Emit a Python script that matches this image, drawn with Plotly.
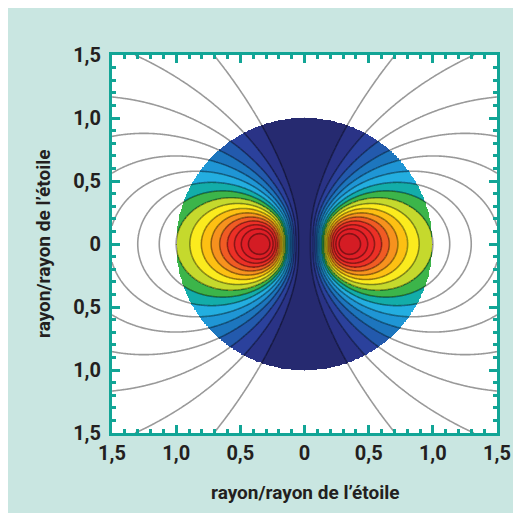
import numpy as np
import plotly.graph_objects as go

# ---- values ----
PEAK_RADIUS = 0.34          # radius where the flux function peaks (red cores at x = ±0.34)
LEVEL_STEP = 1 / 9          # spacing of the drawn flux levels (surface-equator value = 1)
N_LINE_LEVELS = 17          # levels 1/9 ... 17/9
BAND_COLORS = [
    "#262a70", "#2a3386", "#2b419c", "#235aad", "#1d76be", "#1f96d5",
    "#23aee0", "#13ada9", "#3cb54a", "#c5d92d", "#fbeb1e", "#fdc013",
    "#f7921e", "#f15b24", "#ec3026", "#e72427", "#e01e26", "#d41c24",
]
TICK_VALUES = [-1.5, -1.0, -0.5, 0, 0.5, 1.0, 1.5]
TICK_LABELS = ["1,5", "1,0", "0,5", "0", "0,5", "1,0", "1,5"]
AXIS_TITLE = "rayon/rayon de l’étoile"

TEAL = "#12a596"
PANEL = "#c9e6e1"
INK = "#231f20"

# ---- dipole-like flux function (axis vertical), equals 1 at surface equator ----
c0 = PEAK_RADIUS ** 3 / 2
A = 1 + c0


def psi(x, y):
    r = np.sqrt(x ** 2 + y ** 2)
    return A * x ** 2 / (c0 + r ** 3)


# filled bands inside the star
n_in = 361
xi = np.linspace(-1, 1, n_in)
XI, YI = np.meshgrid(xi, xi)
band = np.floor(psi(XI, YI) / LEVEL_STEP)
band = np.clip(band, 0, len(BAND_COLORS) - 1)
band[XI ** 2 + YI ** 2 > 1] = np.nan
band_z = [[None if np.isnan(v) else int(v) for v in row] for row in band]

nb = len(BAND_COLORS)
cscale = []
for i, col in enumerate(BAND_COLORS):
    cscale.append([i / nb, col])
    cscale.append([(i + 1) / nb, col])

# flux lines everywhere
n_out = 401
xo = np.linspace(-1.5, 1.5, n_out)
XO, YO = np.meshgrid(xo, xo)
psi_all = psi(XO, YO)

fig = go.Figure()
fig.add_trace(go.Heatmap(
    x=xi, y=xi, z=band_z, colorscale=cscale, zmin=-0.5, zmax=nb - 0.5,
    showscale=False, hoverinfo="skip", zsmooth=False,
))
fig.add_trace(go.Contour(
    x=xo, y=xo, z=psi_all, showscale=False, hoverinfo="skip",
    contours=dict(start=LEVEL_STEP, end=N_LINE_LEVELS * LEVEL_STEP,
                  size=LEVEL_STEP, coloring="none"),
    line=dict(color="rgba(0,0,0,0.40)", width=1.6, smoothing=1),
))

FONT = "Roboto"
axis_common = dict(
    range=[-1.5, 1.5], tickvals=TICK_VALUES, ticktext=TICK_LABELS,
    ticks="inside", ticklen=8, tickwidth=2.5, tickcolor=TEAL,
    showline=True, linewidth=3, linecolor=TEAL, mirror="ticks",
    showgrid=False, zeroline=False,
    tickfont=dict(family=FONT, size=20, color=INK, weight="bold"),
    minor=dict(dtick=0.1, ticks="inside", ticklen=4, tickwidth=2.5,
               tickcolor=TEAL, showgrid=False),
    fixedrange=True,
)
fig.update_xaxes(**axis_common, ticklabelstandoff=0)
fig.update_yaxes(**axis_common, ticklabelstandoff=4)

# page body margin shifts the figure by 8 px; plot box sits at 104..489 x 47..425
fig.update_layout(
    width=521, height=513,
    margin=dict(l=104, r=32, t=47, b=88),
    paper_bgcolor=PANEL, plot_bgcolor="white",
    showlegend=False,
    annotations=[
        dict(text=AXIS_TITLE, xref="paper", yref="paper", x=0.5, y=(433 - 493) / 378,
             xanchor="center", yanchor="middle", showarrow=False,
             font=dict(family=FONT, size=19, color=INK, weight="bold")),
        dict(text=AXIS_TITLE, xref="paper", yref="paper", x=(43 - 112) / 385, y=0.5,
             xanchor="center", yanchor="middle", showarrow=False, textangle=-90,
             font=dict(family=FONT, size=19, color=INK, weight="bold")),
    ],
)

fig.write_html("out.html")
